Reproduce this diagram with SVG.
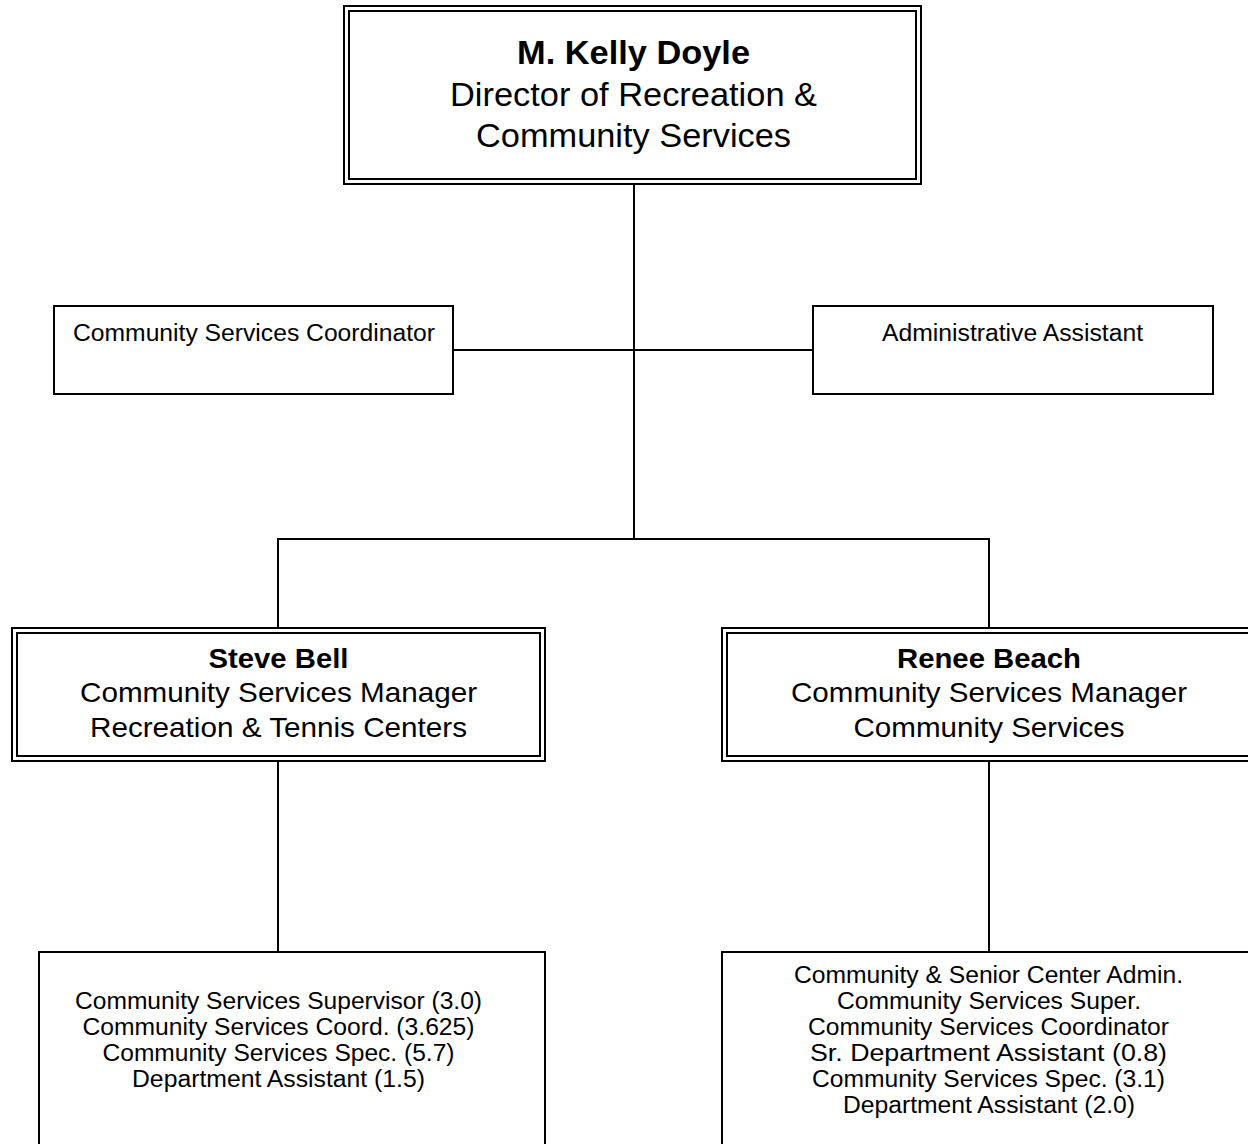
<svg xmlns="http://www.w3.org/2000/svg" width="1248" height="1144" viewBox="0 0 1248 1144">
<style>
.box{fill:#fff;stroke:#000;stroke-width:2}
.in{fill:none;stroke:#000;stroke-width:2}
.ln{fill:none;stroke:#000;stroke-width:2}
text{font-family:"Liberation Sans",Arial,sans-serif;fill:#000;text-anchor:middle}
.t1{font-size:33px}
.t1b{font-size:33px;font-weight:bold}
.t2{font-size:28.5px}
.t2b{font-size:28.5px;font-weight:bold}
.t3{font-size:23.5px}
</style>
<rect x="0" y="0" width="1248" height="1144" fill="#fff"/>
<g id="connectors">
<line class="ln" x1="634" y1="184" x2="634" y2="539"/>
<line class="ln" x1="453" y1="350" x2="813" y2="350"/>
<line class="ln" x1="277" y1="539" x2="990" y2="539"/>
<line class="ln" x1="278" y1="539" x2="278" y2="628"/>
<line class="ln" x1="989" y1="539" x2="989" y2="628"/>
<line class="ln" x1="278" y1="761" x2="278" y2="951"/>
<line class="ln" x1="989" y1="761" x2="989" y2="951"/>
</g>
<g id="director">
<rect class="box" x="344" y="6" width="577" height="178"/>
<rect class="in" x="349" y="11" width="567" height="168"/>
<text class="t1b" x="633.5" y="64" textLength="233" lengthAdjust="spacingAndGlyphs">M. Kelly Doyle</text>
<text class="t1" x="633.5" y="106" textLength="367" lengthAdjust="spacingAndGlyphs">Director of Recreation &amp;</text>
<text class="t1" x="633.5" y="147" textLength="315" lengthAdjust="spacingAndGlyphs">Community Services</text>
</g>
<g id="coordinator">
<rect class="box" x="54" y="306" width="399" height="88"/>
<text class="t3" x="254" y="341" textLength="362" lengthAdjust="spacingAndGlyphs">Community Services Coordinator</text>
</g>
<g id="admin-assistant">
<rect class="box" x="813" y="306" width="400" height="88"/>
<text class="t3" x="1012.5" y="341" textLength="261" lengthAdjust="spacingAndGlyphs">Administrative Assistant</text>
</g>
<g id="steve-bell">
<rect class="box" x="12" y="628" width="533" height="133"/>
<rect class="in" x="17" y="633" width="523" height="123"/>
<text class="t2b" x="278.5" y="668" textLength="140" lengthAdjust="spacingAndGlyphs">Steve Bell</text>
<text class="t2" x="278.5" y="702" textLength="397" lengthAdjust="spacingAndGlyphs">Community Services Manager</text>
<text class="t2" x="278.5" y="737" textLength="377" lengthAdjust="spacingAndGlyphs">Recreation &amp; Tennis Centers</text>
</g>
<g id="renee-beach">
<rect class="box" x="722" y="628" width="534" height="133"/>
<rect class="in" x="727" y="633" width="524" height="123"/>
<text class="t2b" x="989" y="668" textLength="184" lengthAdjust="spacingAndGlyphs">Renee Beach</text>
<text class="t2" x="989" y="702" textLength="396" lengthAdjust="spacingAndGlyphs">Community Services Manager</text>
<text class="t2" x="989" y="737" textLength="271" lengthAdjust="spacingAndGlyphs">Community Services</text>
</g>
<g id="rec-staff">
<rect class="box" x="39" y="952" width="506" height="200"/>
<text class="t3" x="278.5" y="1009" textLength="407" lengthAdjust="spacingAndGlyphs">Community Services Supervisor (3.0)</text>
<text class="t3" x="278.5" y="1035" textLength="392" lengthAdjust="spacingAndGlyphs">Community Services Coord. (3.625)</text>
<text class="t3" x="278.5" y="1061" textLength="352" lengthAdjust="spacingAndGlyphs">Community Services Spec. (5.7)</text>
<text class="t3" x="278.5" y="1087" textLength="293" lengthAdjust="spacingAndGlyphs">Department Assistant (1.5)</text>
</g>
<g id="cs-staff">
<rect class="box" x="722" y="952" width="534" height="200"/>
<text class="t3" x="988.5" y="983" textLength="389" lengthAdjust="spacingAndGlyphs">Community &amp; Senior Center Admin.</text>
<text class="t3" x="989" y="1009" textLength="304" lengthAdjust="spacingAndGlyphs">Community Services Super.</text>
<text class="t3" x="988.5" y="1035" textLength="361" lengthAdjust="spacingAndGlyphs">Community Services Coordinator</text>
<text class="t3" x="988.5" y="1061" textLength="357" lengthAdjust="spacingAndGlyphs">Sr. Department Assistant (0.8)</text>
<text class="t3" x="988.5" y="1087" textLength="353" lengthAdjust="spacingAndGlyphs">Community Services Spec. (3.1)</text>
<text class="t3" x="989" y="1113" textLength="292" lengthAdjust="spacingAndGlyphs">Department Assistant (2.0)</text>
</g>
</svg>
